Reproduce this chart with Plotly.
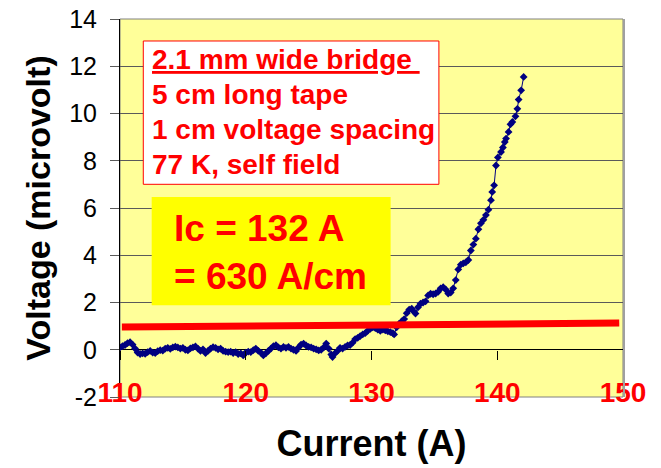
import plotly.graph_objects as go

# Measured data (current in A, voltage in microvolt)
current = [110.0, 110.2, 110.4, 110.6, 110.8, 111.0, 111.2, 111.4, 111.6, 111.8,
           112.0, 112.2, 112.4, 112.6, 112.8, 113.0, 113.2, 113.4, 113.6, 113.8,
           114.0, 114.2, 114.4, 114.6, 114.8, 115.0, 115.2, 115.4, 115.6, 115.8,
           116.0, 116.2, 116.4, 116.6, 116.8, 117.0, 117.2, 117.4, 117.6, 117.8,
           118.0, 118.2, 118.4, 118.6, 118.8, 119.0, 119.2, 119.4, 119.6, 119.8,
           120.0, 120.2, 120.4, 120.6, 120.8, 121.0, 121.2, 121.4, 121.6, 121.8,
           122.0, 122.2, 122.4, 122.6, 122.8, 123.0, 123.2, 123.4, 123.6, 123.8,
           124.0, 124.2, 124.4, 124.6, 124.8, 125.0, 125.2, 125.4, 125.6, 125.8,
           126.0, 126.2, 126.4, 126.6, 126.8, 126.9, 127.1, 127.3, 127.5, 127.7,
           127.9, 128.1, 128.3, 128.5, 128.7, 128.9, 129.1, 129.3, 129.5, 129.7,
           129.9, 130.1, 130.3, 130.5, 130.7, 130.9, 131.1, 131.3, 131.5, 131.7,
           131.8, 132.0, 132.2, 132.4, 132.6, 132.8, 133.0, 133.2, 133.4, 133.5,
           133.7, 133.9, 134.1, 134.3, 134.5, 134.7, 134.9, 135.1, 135.3, 135.5,
           135.7, 135.9, 136.1, 136.3, 136.5, 136.7, 136.9, 137.1, 137.3, 137.5,
           137.7, 137.9, 138.1, 138.3, 138.5, 138.7, 138.9, 139.1, 139.3, 139.5,
           139.6, 139.75, 139.9, 140.05, 140.3, 140.45, 140.6, 140.7, 140.9, 141.05,
           141.2, 141.45, 141.6, 141.7, 141.9, 142.1]
voltage = [0.10, 0.15, 0.20, 0.28, 0.32, 0.22, 0.05, -0.12, -0.18, -0.15,
           -0.17, -0.10, -0.05, -0.12, -0.14, -0.06, -0.02, -0.04, 0.05, 0.08,
           0.04, 0.10, 0.13, 0.10, 0.05, 0.08, 0.00, -0.03, 0.06, 0.10,
           0.14, 0.05, -0.05, 0.02, -0.14, -0.05, 0.05, 0.11, 0.08, 0.02,
           0.05, -0.05, -0.08, -0.10, -0.08, -0.14, -0.10, -0.18, -0.15, -0.24,
           -0.12, -0.08, -0.10, -0.02, 0.05, -0.05, -0.12, -0.24, -0.15, -0.05,
           0.05, 0.15, 0.19, 0.10, 0.05, 0.12, 0.08, 0.12, 0.05, 0.00,
           -0.05, 0.10, 0.22, 0.26, 0.18, 0.12, 0.10, 0.05, 0.02, -0.03,
           0.00, 0.10, 0.26, 0.05, -0.20, -0.31, -0.15, -0.05, 0.08, 0.05,
           0.12, 0.18, 0.20, 0.30, 0.45, 0.50, 0.58, 0.65, 0.70, 0.80,
           0.88, 0.95, 0.92, 0.85, 0.80, 0.85, 0.82, 0.78, 0.75, 0.70,
           0.65, 0.95, 1.10, 1.20, 1.30, 1.55, 1.70, 1.74, 1.60, 1.53,
           1.80, 1.95, 2.00, 2.05, 2.30, 2.37, 2.35, 2.38, 2.45, 2.60,
           2.65, 2.55, 2.38, 2.42, 2.60, 2.95, 3.40, 3.60, 3.66, 3.70,
           3.80, 4.20, 4.45, 4.70, 5.10, 5.35, 5.50, 5.70, 5.93, 6.33,
           6.68, 6.96, 7.80, 8.14, 8.37, 8.56, 8.79, 8.94, 9.22, 9.54,
           9.64, 9.88, 10.20, 10.59, 10.98, 11.55]

# 1 microvolt/cm criterion line (as drawn)
crit_current = [110.15, 149.7]
crit_voltage = [0.96, 1.13]

x_ticks = [110, 120, 130, 140, 150]
y_ticks = [-2, 0, 2, 4, 6, 8, 10, 12, 14]

info_lines = ["<u>2.1 mm wide bridge&nbsp;</u>", "5 cm long tape",
              "1 cm voltage spacing", "77 K, self field"]
ic_lines = ["Ic = 132 A", "= 630 A/cm"]

FONT = "Liberation Sans, Arial, sans-serif"
NAVY = "#000080"
RED = "#FF0000"

fig = go.Figure()

fig.add_trace(go.Scatter(
    x=current, y=voltage, mode="lines+markers",
    line=dict(color=NAVY, width=1),
    marker=dict(symbol="diamond", size=6, color=NAVY),
    showlegend=False, hoverinfo="skip"))

fig.add_trace(go.Scatter(
    x=crit_current, y=crit_voltage, mode="lines",
    line=dict(color=RED, width=7),
    xaxis="x2", yaxis="y",
    showlegend=False, hoverinfo="skip"))

# paper-y positions of the info box lines (centres)
info_y = [0.892, 0.799, 0.707, 0.614]

annotations = []
for line, yy in zip(info_lines, info_y):
    annotations.append(dict(
        xref="paper", yref="paper", x=0.0596, y=yy, xanchor="left", yanchor="middle",
        align="left", showarrow=False, text=line,
        font=dict(family=FONT, size=28, color=RED, weight="bold")))
annotations.append(dict(
    xref="paper", yref="paper", x=0.1028, y=0.383, xanchor="left", yanchor="middle",
    align="left", showarrow=False, text="<br>".join(ic_lines),
    font=dict(family=FONT, size=37, color=RED, weight="bold")))

fig.update_layout(
    width=661, height=468,
    margin=dict(l=120, r=38, t=19, b=71, autoexpand=False),
    paper_bgcolor="white",
    plot_bgcolor="#FFFF99",
    font=dict(family=FONT, color="black"),
    xaxis=dict(
        range=[110, 150], tickvals=x_ticks, ticktext=[str(v) for v in x_ticks],
        showgrid=False, zeroline=False, showline=False, ticks="",
        tickfont=dict(family=FONT, size=28, color=RED, weight="bold"),
        ticklabelstandoff=-24,
        title=dict(text="<b>Current (A)</b>", font=dict(family=FONT, size=36, color="black"),
                   standoff=23),
        automargin=False,
    ),
    xaxis2=dict(
        range=[110, 150], overlaying="x", anchor="free", position=0.125,
        tickvals=x_ticks, showticklabels=False, ticks="outside", ticklen=9,
        tickcolor="black", tickwidth=1, showgrid=False, zeroline=False, showline=False,
        automargin=False,
    ),
    yaxis=dict(
        range=[-2, 14], tickvals=y_ticks, ticktext=[str(v) for v in y_ticks],
        showgrid=True, gridcolor="#5a5a5a", gridwidth=1,
        zeroline=True, zerolinecolor="black", zerolinewidth=1,
        showline=True, linecolor="black", linewidth=1,
        ticks="outside", ticklen=9, tickcolor="#5a5a5a", tickwidth=1,
        tickfont=dict(family=FONT, size=25, color="black"),
        ticklabelstandoff=8,
        title=dict(text="<b>Voltage (microvolt)</b>", font=dict(family=FONT, size=34, color="black"),
                   standoff=8),
        automargin=False,
    ),
    shapes=[
        dict(type="rect", xref="paper", yref="paper", x0=0, x1=1, y0=0, y1=1,
             line=dict(color="#808080", width=1), layer="below"),
        dict(type="line", xref="paper", yref="paper", x0=1.002, x1=1.002, y0=0, y1=1,
             line=dict(color="#a0a0a0", width=2), layer="above"),
        dict(type="rect", xref="paper", yref="paper", x0=0.0463, x1=0.634, y0=0.5627, y1=0.9418,
             fillcolor="white", line=dict(color=RED, width=1), layer="above"),
        dict(type="rect", xref="paper", yref="paper", x0=0.063, x1=0.538, y0=0.2426, y1=0.529,
             fillcolor="#FFFF00", line=dict(width=0), layer="above"),
    ],
    annotations=annotations,
)

fig.write_html("out.html")
